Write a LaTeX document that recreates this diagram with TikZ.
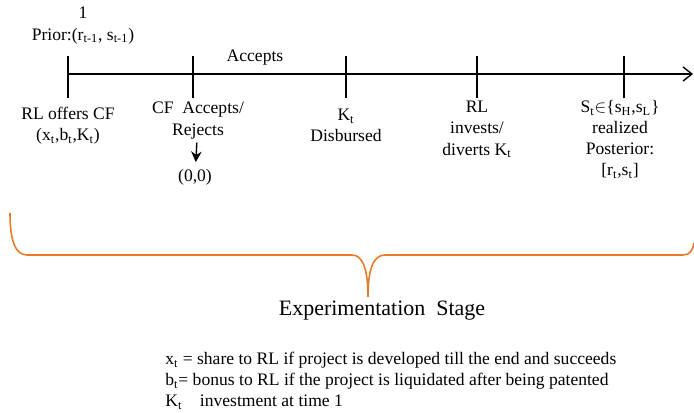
\documentclass[tikz,border=0pt]{standalone}
\usepackage{fontspec}
\IfFontExistsTF{Liberation Serif}{\setmainfont{Liberation Serif}}{\setmainfont{TeX Gyre Termes}}
\usetikzlibrary{arrows.meta}
\definecolor{braceorange}{RGB}{232,122,42}
\begin{document}
\begin{tikzpicture}[
	lbl/.style={inner sep=0pt,align=center,anchor=north,font=\rmfamily\fontsize{10}{12}\selectfont},
	tick/.style={line width=0.8pt},
]
	\useasboundingbox (0,0) rectangle (13.88,-8.26);

	\coordinate (t0) at (1.36,-1.48);
	\coordinate (t1) at (3.86,-1.48);
	\coordinate (t2) at (6.92,-1.48);
	\coordinate (t3) at (9.54,-1.48);
	\coordinate (t4) at (12.48,-1.48);
	\coordinate (tend) at (13.86,-1.48);

	\draw[tick,-{Straight Barb[length=5pt,width=8pt]}] (t0) -- (tend);
	\draw[tick] ([yshift=0.36cm]t0) -- ([yshift=-0.48cm]t0);
	\draw[tick] ([yshift=0.36cm]t1) -- ([yshift=-0.48cm]t1);
	\draw[tick] ([yshift=0.36cm]t2) -- ([yshift=-0.48cm]t2);
	\draw[tick] ([yshift=0.36cm]t3) -- ([yshift=-0.48cm]t3);
	\draw[tick] ([yshift=0.36cm]t4) -- ([yshift=-0.48cm]t4);

	\draw[] (1.66,-0.14) node[lbl] (prior) {1\\Prior:(r\textsubscript{t-1}, s\textsubscript{t-1})};
	\draw[] (5.10,-1.24) node[lbl,anchor=base] (accepts) {Accepts};

	\draw[] (1.36,-2.14) node[lbl] (offer) {RL offers CF\\(x\textsubscript{t},b\textsubscript{t},K\textsubscript{t})};
	\draw[] (3.96,-2.04) node[lbl] (cf) {CF~~Accepts/\\Rejects};
	\draw[] (3.90,-3.38) node[lbl] (zero) {(0,0)};
	\draw[] (6.92,-2.18) node[lbl] (kt) {K\textsubscript{t}\\Disbursed};
	\draw[] (9.54,-2.02) node[lbl] (invest) {RL\\invests/\\diverts K\textsubscript{t}};
	\draw[] (12.40,-2.00) node[lbl] (state) {S\textsubscript{t}$\in$\{s\textsubscript{H},s\textsubscript{L}\}\\realized\\Posterior:\\{}[r\textsubscript{t},s\textsubscript{t}]};

	\draw[line width=0.8pt,-{Stealth[length=6pt,width=6pt]},shorten <=2pt,shorten >=0.14cm] (cf) -- (zero);

	% brace over the stage
	\draw[braceorange,line width=0.9pt] (0.20,-4.26) .. controls (0.20,-4.80) and (0.30,-5.10) .. (0.54,-5.10)
		-- (7.04,-5.10) .. controls (7.26,-5.10) and (7.36,-5.40) .. (7.36,-5.94)
		.. controls (7.36,-5.40) and (7.46,-5.10) .. (7.70,-5.10)
		-- (13.66,-5.10) .. controls (13.80,-5.10) and (13.86,-5.00) .. (13.88,-4.86);

	\draw[] (7.64,-6.30) node[lbl,anchor=base,font=\rmfamily\fontsize{12.5}{15}\selectfont] (stage) {Experimentation~ Stage};

	\draw[] (3.30,-7.04) node[lbl,anchor=north west,align=left] (legend) {x\textsubscript{t} = share to RL if project is developed till the end and succeeds\\
		b\textsubscript{t}= bonus to RL if the project is liquidated after being patented\\
		K\textsubscript{t}\quad investment at time 1};
\end{tikzpicture}
\end{document}
